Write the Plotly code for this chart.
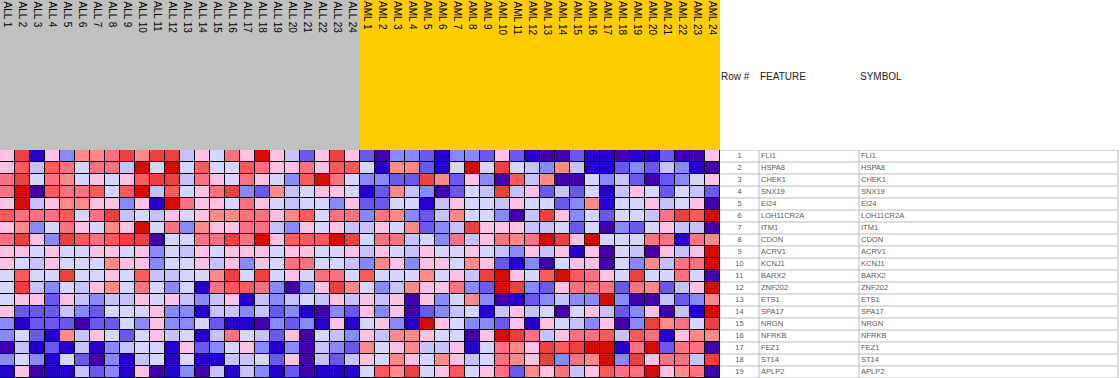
import plotly.graph_objects as go

# ---------------- data ----------------
features = ["FLI1", "HSPA8", "CHEK1", "SNX19", "EI24", "LOH11CR2A", "ITM1", "CDON",
            "ACRV1", "KCNJ1", "BARX2", "ZNF202", "ETS1", "SPA17", "NRGN", "NFRKB",
            "FEZ1", "ST14", "APLP2"]
symbols = list(features)
row_numbers = [str(i + 1) for i in range(len(features))]

all_samples = ["ALL %d" % i for i in range(1, 25)]
aml_samples = ["AML %d" % i for i in range(1, 25)]
samples = all_samples + aml_samples
sample_class = [0] * len(all_samples) + [1] * len(aml_samples)   # 0 = ALL, 1 = AML

# colour level (0 = lowest, 11 = highest) per gene (row) and sample (column)
levels = [
    [6,10,1,6,3,7,7,8,10,7,10,10,4,6,5,8, 6,11,6,4,2,6,10,6,2,0,3,3,2,1,3,3, 2,6,2,1,0,0,2,1,1,0,1,1,2,0,0,6],
    [6,9,4,9,8,5,8,8,4,11,5,11,5,9,5,5, 9,8,6,6,8,6,9,9,5,1,7,7,2,1,5,11, 5,10,5,4,3,7,4,1,1,2,3,2,4,3,1,0],
    [8,10,5,8,7,5,6,5,6,9,10,10,4,8,6,5, 8,6,5,3,9,11,8,5,3,3,2,2,10,7,2,6, 3,0,9,4,7,0,0,5,3,4,2,0,2,3,5,6],
    [8,11,0,9,8,8,9,5,9,11,4,9,5,6,8,10, 3,2,7,4,5,6,6,5,1,2,7,4,3,0,2,5, 4,10,4,6,2,4,2,5,1,4,6,5,2,5,4,2],
    [6,11,4,6,7,7,6,6,3,6,1,11,8,6,6,5, 8,6,5,4,5,5,3,6,2,2,5,5,1,4,6,5, 5,4,6,5,5,2,3,7,1,5,5,6,4,5,6,0],
    [9,8,8,8,9,5,8,10,4,5,4,6,5,6,7,7, 8,8,6,7,9,5,8,8,3,8,7,3,2,4,7,5, 5,3,0,4,10,6,3,5,2,5,5,4,8,10,9,11],
    [6,7,3,5,8,6,5,7,6,11,5,8,3,7,6,6, 8,8,4,3,6,5,6,4,4,6,5,7,2,3,4,10, 6,6,6,4,4,5,2,5,0,3,2,5,6,4,4,0],
    [8,10,6,3,10,9,8,9,10,10,0,5,5,8,8,10, 8,11,6,9,9,9,11,10,5,8,8,4,5,3,8,4, 6,8,7,8,11,10,6,11,5,5,5,8,8,1,8,7],
    [6,6,5,6,5,5,6,6,5,6,3,5,4,6,5,6, 6,6,5,6,6,5,5,6,4,6,5,4,6,5,5,6, 5,4,3,6,4,6,1,6,0,5,4,0,6,4,6,11],
    [6,5,4,6,5,5,5,7,6,6,3,5,5,6,4,6, 3,6,5,8,8,5,5,4,3,7,6,3,6,6,5,7, 6,2,1,3,0,5,6,6,0,5,3,7,4,8,8,11],
    [5,9,5,5,10,5,5,6,5,9,4,4,5,5,7,10, 5,10,5,6,5,8,8,5,9,5,5,5,7,5,6,4, 10,11,6,5,9,11,9,8,6,5,10,5,5,8,5,0],
    [5,10,4,3,5,4,6,7,5,8,5,3,5,1,8,9, 9,8,3,0,3,6,10,7,5,3,4,7,6,6,8,3, 2,11,10,3,2,6,8,8,8,2,8,7,2,4,6,11],
    [5,6,6,2,6,4,3,4,4,6,5,6,4,3,4,6, 1,4,3,4,5,4,6,4,6,4,6,0,6,3,5,7, 3,0,1,2,3,4,3,3,11,3,0,0,4,2,3,7],
    [6,2,2,2,4,3,2,5,5,5,6,3,3,1,4,4, 3,4,2,3,1,0,3,2,6,3,6,0,2,3,4,5, 1,4,6,4,5,0,5,6,4,2,3,6,0,4,1,11],
    [3,1,2,2,2,0,2,2,5,3,6,3,3,5,2,1, 1,0,3,2,3,1,6,1,5,6,3,1,11,6,5,3, 3,2,6,1,6,5,4,3,6,0,3,10,7,8,5,10],
    [3,5,2,1,7,4,6,5,2,5,6,4,5,1,4,8, 5,4,2,6,0,5,4,3,6,4,7,7,6,5,5,0, 6,11,10,8,4,6,8,8,9,4,9,8,1,6,7,7],
    [0,4,1,2,1,4,1,3,4,5,5,1,6,2,3,5, 6,3,1,3,0,4,3,2,7,5,6,7,4,4,6,1, 5,8,7,6,10,9,10,11,11,1,8,11,2,8,8,0],
    [3,5,3,1,5,2,0,3,1,4,5,1,5,1,1,4, 4,5,2,6,0,4,2,4,6,5,7,6,5,7,6,4, 5,8,7,6,10,3,8,7,11,3,10,6,8,8,4,10],
    [1,6,0,1,1,4,2,3,1,6,0,1,3,0,4,1, 4,3,1,2,0,1,1,1,5,9,7,10,5,6,9,5, 6,8,2,7,6,8,4,6,9,8,8,11,6,7,8,0],
]

palette = ["#4500AD", "#2700D1", "#6B58EF", "#8888FF", "#C7C1FF", "#D5D5FF",
           "#FFC0E5", "#FF8989", "#FF7080", "#FF5A5A", "#EF4040", "#D60C00"]
class_colors = ["#C0C0C0", "#FFCC00"]

# ---------------- layout geometry ----------------
W, H = 1120, 378
HEAT_W = 720
HEAD_H = 150
x_heat = [0, HEAT_W / W]
y_heat = [0, (H - HEAD_H) / H]
y_head = [(H - HEAD_H) / H, 1]
TABLE_W = W - HEAT_W
n_rows = len(features)


def stepped(colors):
    n = len(colors)
    cs = []
    for i, c in enumerate(colors):
        cs.append([i / n, c])
        cs.append([(i + 1) / n, c])
    return cs


fig = go.Figure()

# main heatmap
fig.add_trace(go.Heatmap(
    z=levels, x=samples, y=features,
    colorscale=stepped(palette), zmin=-0.5, zmax=len(palette) - 0.5,
    showscale=False, xgap=1, ygap=1, xaxis="x", yaxis="y",
    hoverinfo="skip",
))

# class header band
fig.add_trace(go.Heatmap(
    z=[sample_class], x=samples, y=["class"],
    colorscale=stepped(class_colors), zmin=-0.5, zmax=1.5,
    showscale=False, xaxis="x2", yaxis="y2", hoverinfo="skip",
))

# table text
tfont = dict(family="Liberation Sans, Arial, sans-serif", size=7.5, color="#5A5A5A")
fig.add_trace(go.Scatter(x=[19.5] * n_rows, y=features, text=row_numbers,
                         mode="text", textposition="middle center", textfont=tfont,
                         xaxis="x3", yaxis="y", hoverinfo="skip", showlegend=False))
fig.add_trace(go.Scatter(x=[41] * n_rows, y=features, text=features,
                         mode="text", textposition="middle right", textfont=tfont,
                         xaxis="x3", yaxis="y", hoverinfo="skip", showlegend=False))
fig.add_trace(go.Scatter(x=[141] * n_rows, y=features, text=symbols,
                         mode="text", textposition="middle right", textfont=tfont,
                         xaxis="x3", yaxis="y", hoverinfo="skip", showlegend=False))

shapes = [dict(type="rect", xref="x domain", yref="y domain", x0=0, x1=1, y0=0, y1=1,
               fillcolor="black", line=dict(width=0), layer="below")]
line_col = "#BBBBBB"
for i in range(n_rows + 1):
    shapes.append(dict(type="line", xref="x3", yref="y", x0=0, x1=TABLE_W - 2,
                       y0=i - 0.5, y1=i - 0.5, line=dict(color=line_col, width=1)))
for xv in [39, 139, TABLE_W - 2]:
    shapes.append(dict(type="line", xref="x3", yref="y domain", x0=xv, x1=xv,
                       y0=0, y1=1, line=dict(color=line_col, width=1)))

hfont = dict(family="Liberation Sans, Arial, sans-serif", size=10, color="#222222")
annotations = []
for label, px in [("Row #", 719), ("FEATURE", 758), ("SYMBOL", 858)]:
    annotations.append(dict(text=label, xref="paper", yref="paper", x=px / W,
                            y=1 - 76 / H, xanchor="left", yanchor="middle",
                            showarrow=False, font=hfont))
# sample labels, written downward at the top of the class band
lfont = dict(family="Liberation Sans, Arial, sans-serif", size=10, color="black")
for s in samples:
    annotations.append(dict(text=s, xref="x2", yref="paper", x=s, y=1,
                            xanchor="center", yanchor="top", textangle=90,
                            showarrow=False, font=lfont, borderpad=0))

hidden = dict(showgrid=False, zeroline=False, showticklabels=False, ticks="",
              showline=False, fixedrange=True, automargin=False)
fig.update_layout(
    width=W, height=H, margin=dict(l=0, r=0, t=0, b=0, autoexpand=False),
    paper_bgcolor="white", plot_bgcolor="white",
    xaxis=dict(domain=x_heat, anchor="y", **hidden),
    yaxis=dict(domain=y_heat, anchor="x", range=[n_rows - 0.5, -0.5], **hidden),
    xaxis2=dict(domain=x_heat, anchor="y2", **hidden),
    yaxis2=dict(domain=y_head, anchor="x2", **hidden),
    xaxis3=dict(domain=[HEAT_W / W, 1], anchor="y", range=[0, TABLE_W], **hidden),
    shapes=shapes, annotations=annotations, showlegend=False,
)

fig.write_html("out.html", config={"displayModeBar": False},
               post_script="document.body.style.margin='0';document.body.style.padding='0';")
